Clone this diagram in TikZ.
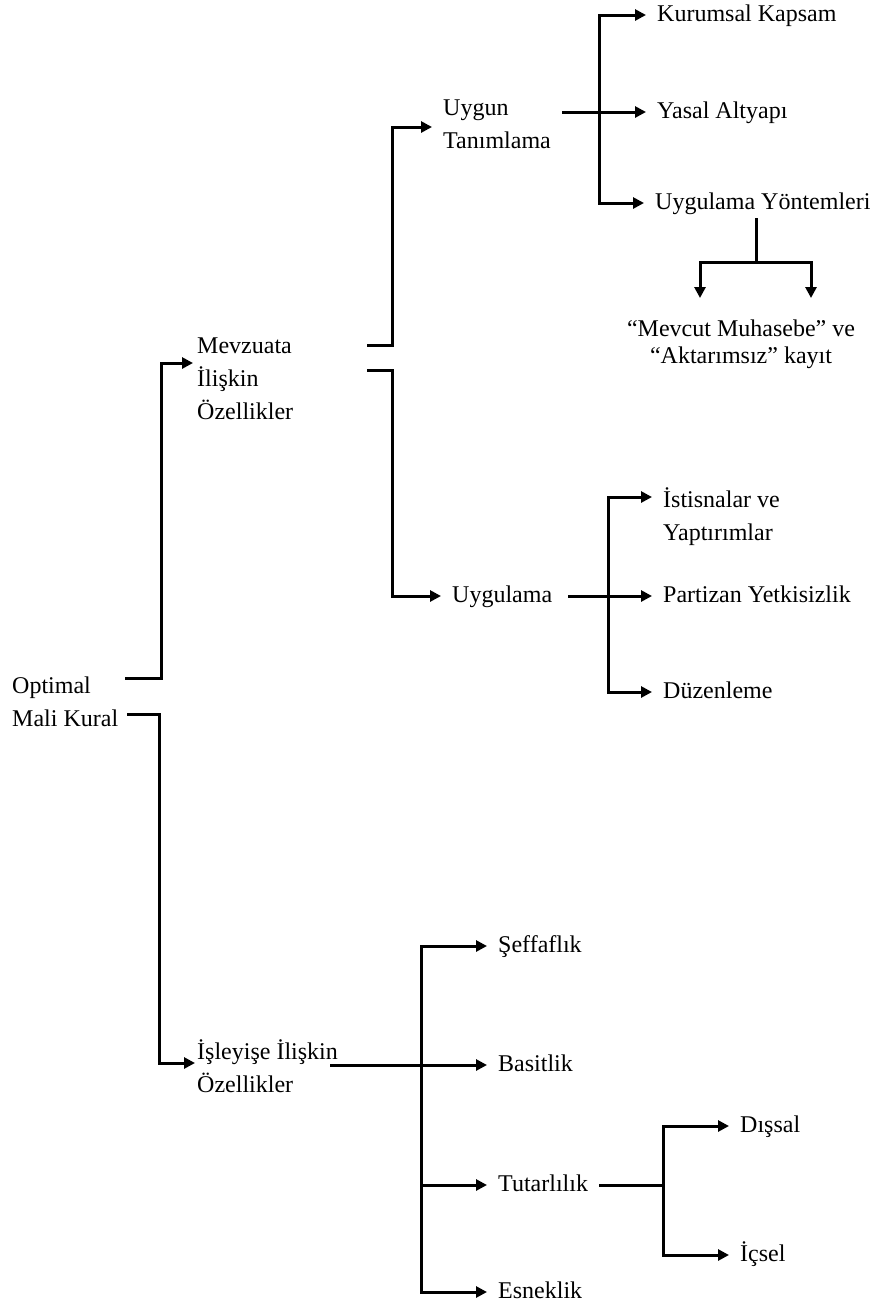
\documentclass[tikz,border=0pt]{standalone}
\usepackage{fontspec}
\setmainfont{Liberation Serif}
\usetikzlibrary{arrows.meta}

\begin{document}
\begin{tikzpicture}[
		x=1pt,y=-1pt,
		every node/.style={font=\fontsize{24}{33}\selectfont},
		item/.style={
			anchor=west,inner xsep=11pt,inner ysep=0pt,text height=17pt,text depth=5pt,
		},
		block/.style={
			anchor=base west,inner sep=0pt,align=left,
		},
		link/.style={line width=3pt},
		arrow/.style={link,-{Triangle[length=11pt,width=11pt]}},
	]

	\useasboundingbox (0,0) rectangle (896,1307);

	% main heading and its two groups (placed at their last baseline)
	\node[block] (root) at (12,726) {Optimal\\Mali Kural};
	\node[block] (mevzuat) at (197,419) {Mevzuata\\İlişkin\\Özellikler};
	\node[block] (isleyis) at (197,1092) {İşleyişe İlişkin\\Özellikler};

	% upper group
	\node[block] (uygun) at (443,148) {Uygun\\Tanımlama};
	\node[item] (uygulama) at (441,596) {Uygulama};

	\node[item] (kurumsal) at (646,15) {Kurumsal Kapsam};
	\node[item] (yasal) at (646,112) {Yasal Altyapı};
	\node[item] (yontem) at (644,203) {Uygulama Yöntemleri};
	\node[anchor=base,align=center,inner sep=0pt] (mevcut) at (741,363)
		{“Mevcut Muhasebe” ve\\[-6pt]“Aktarımsız” kayıt};

	\node[block] (istisna) at (663,540) {İstisnalar ve\\Yaptırımlar};
	\node[item] (partizan) at (652,596) {Partizan Yetkisizlik};
	\node[item] (duzen) at (652,692) {Düzenleme};

	% lower group
	\node[item] (seffaf) at (487,946) {Şeffaflık};
	\node[item] (basit) at (487,1065) {Basitlik};
	\node[item] (tutarli) at (487,1185) {Tutarlılık};
	\node[item] (esnek) at (487,1292) {Esneklik};
	\node[item] (dissal) at (729,1126) {Dışsal};
	\node[item] (icsel) at (729,1255) {İçsel};

	% bracket points
	\coordinate (r-up) at (125,678);
	\coordinate (r-dn) at (127,714);
	\coordinate (m-up) at (367,345);
	\coordinate (m-dn) at (367,370);
	\coordinate (u-out) at (562,112);
	\coordinate (u-bar) at (599,112);
	\coordinate (y-top) at (756,218);
	\coordinate (y-bar) at (756,262);
	\coordinate (mc-l) at (700,298);
	\coordinate (mc-r) at (811,298);
	\coordinate (g-out) at (568,596);
	\coordinate (g-bar) at (608,596);
	\coordinate (i-out) at (330,1065);
	\coordinate (i-bar) at (421,1065);
	\coordinate (t-bar) at (663,1185);

	\draw[arrow] (r-up) -- ++(36,0) |- ([xshift=-4pt,yshift=56pt]mevzuat.base west);
	\draw[arrow] (r-dn) -- ++(32,0) |- ([xshift=-2pt,yshift=29pt]isleyis.base west);

	\draw[arrow] (m-up) -- ++(25,0) |- ([xshift=-11pt,yshift=21pt]uygun.base west);
	\draw[arrow] (m-dn) -- ++(25,0) |- (uygulama.west);

	\draw[arrow] (u-out) -- (yasal.west);
	\draw[arrow] (u-bar) |- (kurumsal.west);
	\draw[arrow] (u-bar) |- (yontem.west);

	\draw[link] (y-top) -- (y-bar);
	\draw[arrow] (y-bar) -| (mc-l);
	\draw[arrow] (y-bar) -| (mc-r);

	\draw[arrow] (g-out) -- (partizan.west);
	\draw[arrow] (g-bar) |- ([xshift=-11pt,yshift=43pt]istisna.base west);
	\draw[arrow] (g-bar) |- (duzen.west);

	\draw[arrow] (i-out) -- (basit.west);
	\draw[arrow] (i-bar) |- (seffaf.west);
	\draw[arrow] (i-bar) |- (tutarli.west);
	\draw[arrow] (i-bar) |- (esnek.west);

	\draw[link] (tutarli.east) -- (t-bar);
	\draw[arrow] (t-bar) |- (dissal.west);
	\draw[arrow] (t-bar) |- (icsel.west);

\end{tikzpicture}
\end{document}
